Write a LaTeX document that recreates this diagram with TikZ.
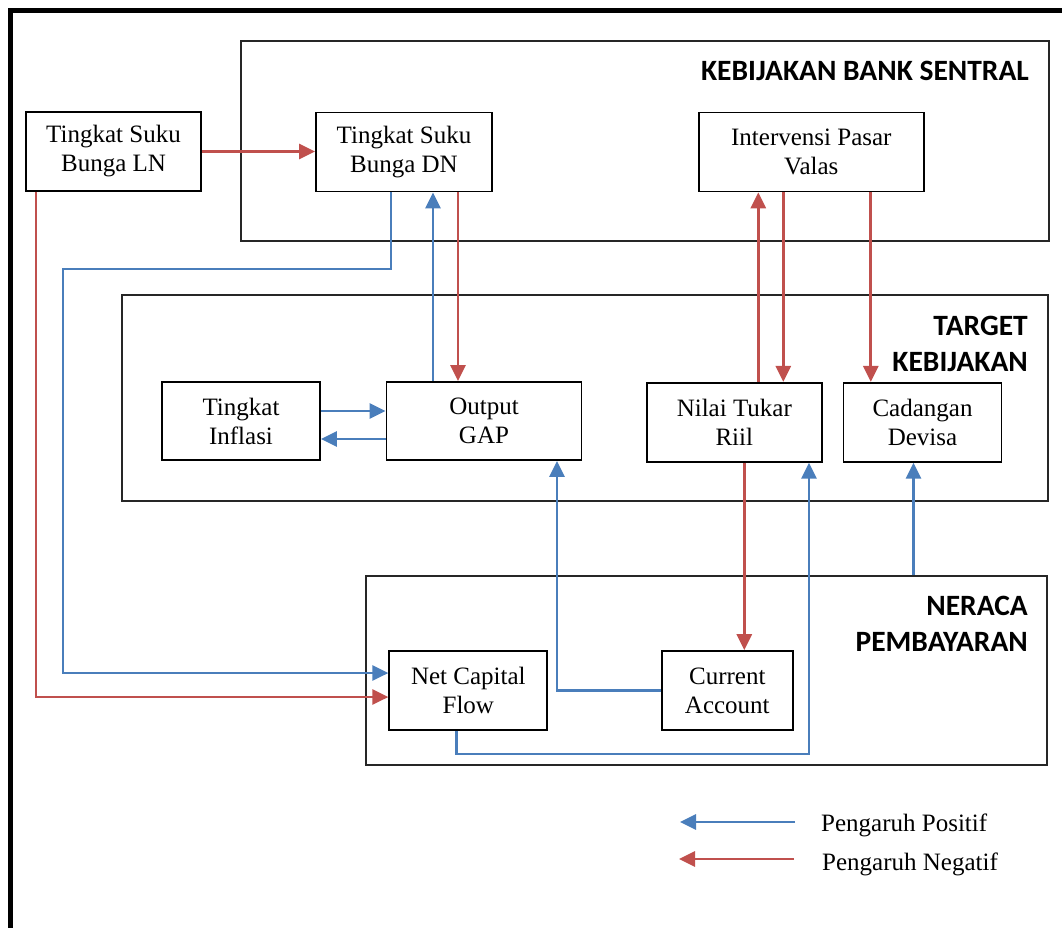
\documentclass[tikz,border=0pt]{standalone}
\usepackage{fontspec}
\setmainfont{Liberation Serif}
\newfontfamily\calibrifont{Carlito}
\usepackage{tikz}
\usetikzlibrary{arrows.meta}
\definecolor{posblue}{RGB}{74,126,187}
\definecolor{negred}{RGB}{192,80,77}
\tikzset{
  varbox/.style={draw=black, line width=1.8pt, inner sep=0pt, align=center,
    minimum height=79pt, font=\fontsize{25}{29}\selectfont},
  sectorbox/.style={draw=black!85, line width=1.2pt, inner sep=0pt},
  sectortitle/.style={font=\calibrifont\bfseries\fontsize{29.5}{36.5}\selectfont,
    align=right, anchor=east, inner sep=0pt},
  posarrow/.style={draw=posblue, line width=2.8pt, -{Triangle[length=16pt,width=15pt]}},
  negarrow/.style={draw=negred, line width=2.8pt, -{Triangle[length=16pt,width=15pt]}},
  legendtext/.style={anchor=base west, inner sep=0pt, font=\fontsize{25}{29}\selectfont}
}
\begin{document}
\begin{tikzpicture}[x=1pt, y=-1pt]
            \useasboundingbox (0,0) rectangle (1062,928);
            \draw[line width=5pt] (10.5,940) -- (10.5,10.5) -- (1070,10.5);

            % sektor
            \node[sectorbox, minimum width=808pt, minimum height=200pt] (bank) at (645,141) {};
            \node[sectorbox, minimum width=926pt, minimum height=206pt] (target) at (585,398) {};
            \node[sectorbox, minimum width=681pt, minimum height=189pt] (neraca) at (706.5,670.5) {};
            \node[sectortitle, anchor=base east] (bankTitle) at (1029,80.5) {KEBIJAKAN BANK SENTRAL};
            \node[sectortitle] (targetTitle) at (1028,344) {TARGET\\KEBIJAKAN};
            \node[sectortitle] (neracaTitle) at (1028,624) {NERACA\\PEMBAYARAN};

            % variabel
            \node[varbox, minimum width=175pt] (ln) at (113.5,151.5) {Tingkat Suku\\Bunga LN};
            \node[varbox, minimum width=176pt] (dn) at (404,152) {Tingkat Suku\\Bunga DN};
            \node[varbox, minimum width=225pt] (valas) at (811.3,152) {Intervensi Pasar\\Valas};
            \node[varbox, minimum width=158pt, minimum height=78pt] (inflasi) at (241,421) {Tingkat\\Inflasi};
            \node[varbox, minimum width=195pt, minimum height=78pt] (gap) at (484,421) {Output\\GAP};
            \node[varbox, minimum width=175pt] (riil) at (734.3,422.3) {Nilai Tukar\\Riil};
            \node[varbox, minimum width=158pt] (devisa) at (922.5,422.3) {Cadangan\\Devisa};
            \node[varbox, minimum width=158pt] (ncf) at (468.3,690.5) {Net Capital\\Flow};
            \node[varbox, minimum width=131pt] (ca) at (727.3,690.5) {Current\\Account};

            \coordinate (lnDown) at (36,697);
            \coordinate (dnBend) at (391,269);
            \coordinate (capBend) at (63,673);
            \coordinate (flowBend) at (809,754);

            % panah
            \draw[negarrow] (ln.east) -- (ln.east -| dn.west);
            \draw[negarrow] (ln.south -| lnDown) -- (lnDown) -- (lnDown -| ncf.west);
            \draw[posarrow] (dn.south -| dnBend) -- (dnBend) -| (capBend) -- (capBend -| ncf.west);
            \draw[posarrow] ([xshift=-51pt]gap.north) -- ([xshift=-51pt]gap.north |- dn.south);
            \draw[negarrow] ([xshift=54pt]dn.south) -- ([xshift=54pt]dn.south |- gap.north);
            \draw[posarrow] ([yshift=10pt]inflasi.east) -- ([yshift=10pt]inflasi.east -| gap.west);
            \draw[posarrow] ([yshift=-18pt]gap.west) -- ([yshift=-18pt]gap.west -| inflasi.east);
            \draw[negarrow] ([xshift=24pt]riil.north) -- ([xshift=24pt]riil.north |- valas.south);
            \draw[negarrow] ([xshift=-28pt]valas.south) -- ([xshift=-28pt]valas.south |- riil.north);
            \draw[negarrow] ([xshift=59.5pt]valas.south) -- ([xshift=59.5pt]valas.south |- devisa.north);
            \draw[negarrow] ([xshift=10pt]riil.south) -- ([xshift=10pt]riil.south |- ca.north);
            \draw[posarrow] (ca.west) -| ([xshift=73pt]gap.south);
            \draw[posarrow] ([xshift=-12pt]ncf.south) |- (flowBend) -- (flowBend |- riil.south);
            \draw[posarrow] ([xshift=-9pt]devisa.south |- neraca.north) -- ([xshift=-9pt]devisa.south);

            % keterangan
            \coordinate (legPos) at (795,822);
            \coordinate (legNeg) at (794,859);
            \draw[posarrow] (legPos) -- +(-115,0);
            \draw[negarrow] (legNeg) -- +(-115,0);
            \node[legendtext] (posText) at (821,831.5) {Pengaruh Positif};
            \node[legendtext] (negText) at (822,870.5) {Pengaruh Negatif};
\end{tikzpicture}
\end{document}
